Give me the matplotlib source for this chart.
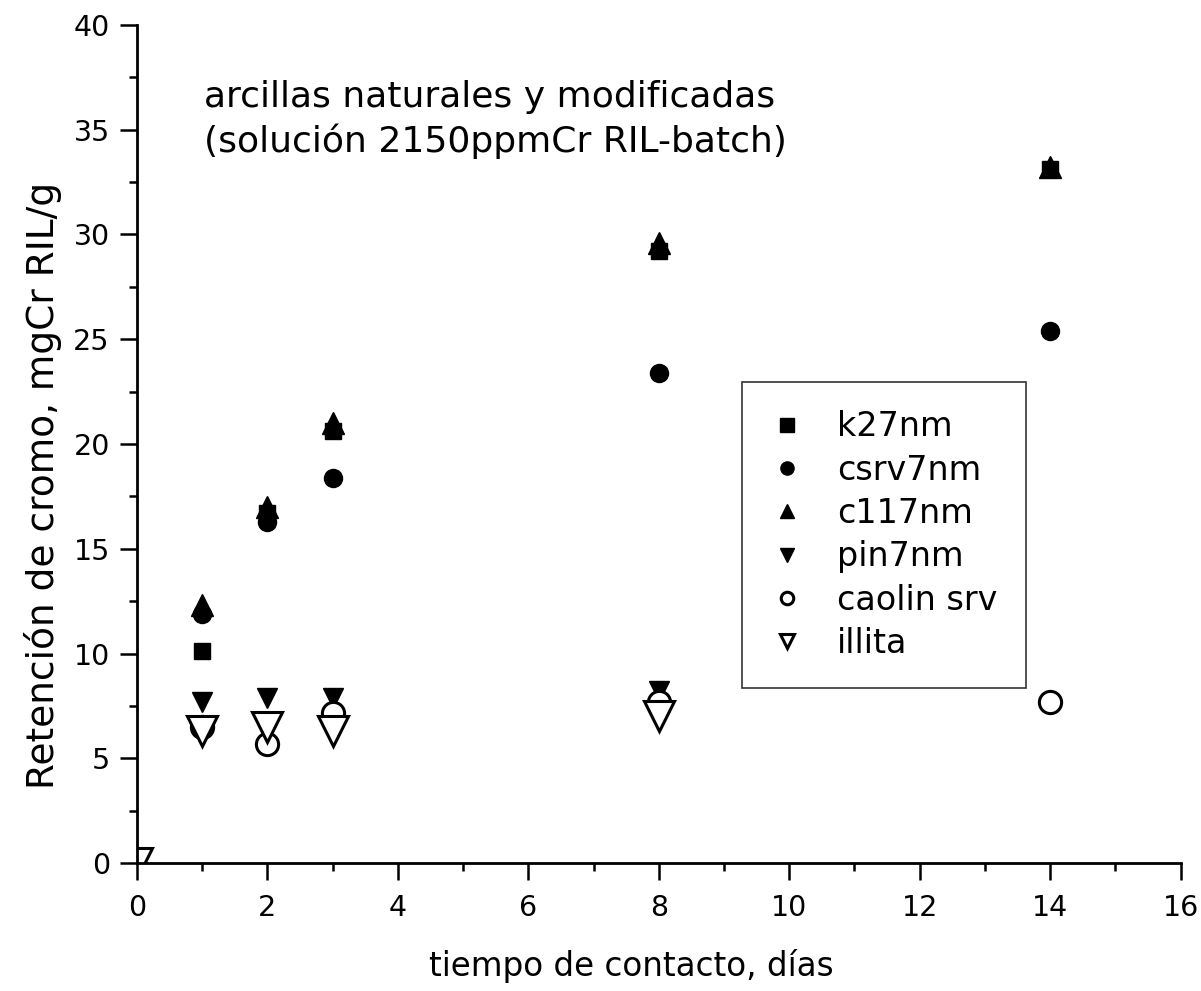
import matplotlib
matplotlib.use("Agg")
import matplotlib.pyplot as plt
from matplotlib.ticker import MultipleLocator

plt.rcParams['font.family'] = ['DejaVu Sans']

# datos
dias = [1, 2, 3, 8, 14]
k27nm = [10.1, 16.7, 20.6, 29.2, 33.1]
csrv7nm = [11.9, 16.3, 18.4, 23.4, 25.4]
c117nm = [12.3, 17.0, 21.0, 29.6, 33.2]
dias_pin = [1, 2, 3, 8]
pin7nm = [7.7, 7.9, 7.9, 8.2]
caolin_srv = [6.5, 5.7, 7.15, 7.7, 7.7]
dias_illita = [0, 1, 2, 3, 8]
illita = [0.0, 6.3, 6.5, 6.3, 7.0]

fig = plt.figure(figsize=(12.01, 9.91), dpi=100)
ax = fig.add_axes([0.114, 0.129, 0.869, 0.846])

ax.plot(dias, k27nm, 's', color='black', ms=12, label='k27nm')
ax.plot(dias, csrv7nm, 'o', color='black', ms=13, label='csrv7nm')
ax.plot(dias, c117nm, '^', color='black', ms=16, label='c117nm')
ax.plot(dias_pin, pin7nm, 'v', color='black', ms=15, label='pin7nm')
ax.plot(dias, caolin_srv, 'o', mfc='white', mec='black', mew=2.2, ms=16,
        label='caolin srv')
ax.plot(dias_illita, illita, 'v', mfc='white', mec='black', mew=2.2, ms=22,
        label='illita')

ax.set_xlim(0, 16)
ax.set_ylim(0, 40)
ax.xaxis.set_major_locator(MultipleLocator(2))
ax.xaxis.set_minor_locator(MultipleLocator(1))
ax.yaxis.set_major_locator(MultipleLocator(5))
ax.yaxis.set_minor_locator(MultipleLocator(2.5))

for s in ['top', 'right']:
    ax.spines[s].set_visible(False)
for s in ['left', 'bottom']:
    ax.spines[s].set_linewidth(2)

ax.tick_params(which='major', direction='out', length=12, width=1.8,
               labelsize=20.5)
ax.tick_params(which='minor', direction='out', length=6, width=1.8)
ax.tick_params(axis='x', which='major', pad=10.5)
ax.tick_params(axis='y', which='major', pad=7.5)

ax.set_xlabel('tiempo de contacto, días', fontsize=23.5)
ax.xaxis.set_label_coords(0.474, -0.102)
ax.set_ylabel('Retención de cromo, mgCr RIL/g', fontsize=27)
ax.yaxis.set_label_coords(-0.072, 0.45)

ax.text(1.03, 37.35, 'arcillas naturales y modificadas\n(solución 2150ppmCr RIL-batch)',
        fontsize=26, va='top', ha='left', linespacing=1.33)

leg = ax.legend(loc='upper left', bbox_to_anchor=(0.580, 0.574), fontsize=24,
                frameon=True, fancybox=False, edgecolor='black',
                handlelength=1.0, handletextpad=1.0,
                borderpad=0.85, labelspacing=0.31, borderaxespad=0)
leg.get_frame().set_linewidth(1.2)
for h, m in zip(leg.legend_handles, [9.5, 9.5, 10, 10, 9, 10]):
    h.set_markersize(m)

fig.savefig('out.png', dpi=100)
